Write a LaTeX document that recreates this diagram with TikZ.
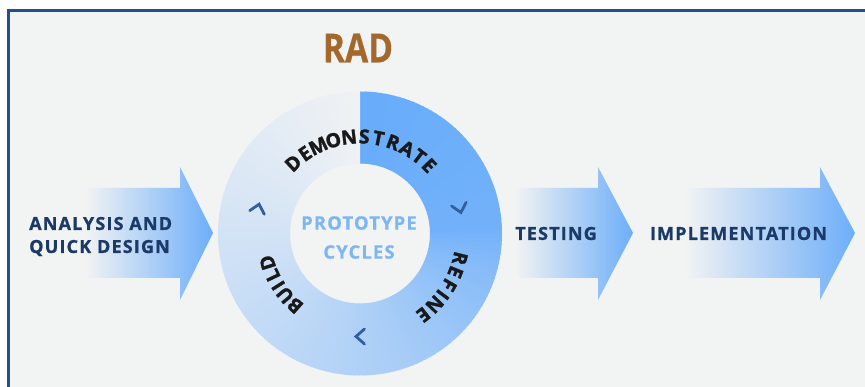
\documentclass[tikz,border=0pt]{standalone}
\usepackage{fontspec}
\setmainfont{Open Sans}
\usepackage{graphicx}
\definecolor{bgc}{HTML}{F2F3F3}
\definecolor{framec}{HTML}{24508A}
\definecolor{bluec}{HTML}{68ACFA}
\definecolor{lightc}{HTML}{F0F2F4}
\definecolor{radc}{HTML}{A5682C}
\definecolor{protoc}{HTML}{7DB6F2}
\definecolor{navyc}{HTML}{1B3A68}
\definecolor{chevc}{HTML}{2F5F9E}
\definecolor{arrowc}{HTML}{6DAEF9}
\tikzset{
  arrtxt/.style={font=\fontsize{18}{23}\selectfont\bfseries\addfontfeatures{LetterSpace=6.5,FakeBold=1}, text=navyc, inner sep=0pt},
  ringtxt/.style={font=\fontsize{19.5}{19.5}\selectfont\bfseries\addfontfeatures{FakeBold=1.5}, text=black!90, inner sep=0pt},
  chev/.style={draw=chevc, line width=2.8pt, line cap=round, line join=miter},
  bigarrow/.style={left color=bgc, middle color=arrowc!35!bgc, right color=arrowc},
}
\begin{document}
\begin{tikzpicture}[x=1pt,y=1pt]
\useasboundingbox (0,0) rectangle (865,387);
\fill[white] (0,0) rectangle (865,387);
\fill[bgc] (8,0) rectangle (865,376);
\draw[framec, line width=3pt] (8,0) -- (8,376) -- (865,376);

% arrows
\shade[bigarrow] (85,109) -- (180,109) -- (180,87) -- (213,154) -- (180,220) -- (180,199) -- (85,199) -- cycle;
\shade[bigarrow] (515,109) -- (598,109) -- (598,87) -- (633,154) -- (598,220) -- (598,199) -- (515,199) -- cycle;
\shade[bigarrow] (685,109) -- (820,109) -- (820,87) -- (855,154) -- (820,220) -- (820,199) -- (685,199) -- cycle;

% ring
\coordinate (c) at (360,153.5);
\foreach \i in {0,...,179} {
  \pgfmathsetmacro{\aa}{90-2*\i}
  \pgfmathsetmacro{\bb}{max(\aa-2.6,-270)}
  \pgfmathsetmacro{\mixv}{\i<45 ? 8*\i/45 : 8+92*((max(2*\i-90,1))/270)^0.65}
  \fill[lightc!\mixv!bluec] ([shift={(\aa:142)}]c) arc[start angle=\aa, end angle=\bb, radius=142]
     -- ([shift={(\bb:70)}]c) arc[start angle=\bb, end angle=\aa, radius=70] -- cycle;
}

% ring texts
\foreach \ch/\ang in {D/133.5, E/124.5, M/115.5, O/106, N/96.5, S/87.5, T/79, R/70, A/61, T/52.5, E/44.5}
  \node[ringtxt, rotate=\ang-90] at ([shift={(\ang:97)}]c) {\ch};
\foreach \ch/\ang in {R/-14, E/-22, F/-30, I/-36.5, N/-43.5, E/-52}
  \node[ringtxt, rotate=\ang-90] at ([shift={(\ang:103)}]c) {\ch};
\foreach \ch/\ang in {B/228, U/219.5, I/212.5, L/205.5, D/197.5}
  \node[ringtxt, rotate=\ang-90] at ([shift={(\ang:97)}]c) {\ch};

% chevrons
\foreach \ang/\r in {166/105, 14/103, -90/103} {
  \begin{scope}[shift={(c)}, rotate=\ang]
    \draw[chev] (\r-7.5,4.5) -- (\r,-4) -- (\r+7.5,4.5);
  \end{scope}
}

% texts
\node[text=radc, inner sep=0pt, font=\fontsize{40}{40}\selectfont\bfseries\addfontfeatures{FakeBold=0.5}] (rad) at (358,339) {\scalebox{0.84}[1]{RAD}};
\node[text=protoc, inner sep=0pt, align=center, font=\fontsize{18.5}{29}\selectfont\bfseries\addfontfeatures{LetterSpace=6,FakeBold=0.5}] (proto) at (359,149.5) {PROTOTYPE\\CYCLES};
\node[arrtxt, anchor=west, align=left] (ana) at (29,150.5) {ANALYSIS AND\\QUICK DESIGN};
\node[arrtxt] (test) at (556,153.5) {TESTING};
\node[arrtxt] (impl) at (738.5,153.5) {IMPLEMENTATION};
\end{tikzpicture}
\end{document}
